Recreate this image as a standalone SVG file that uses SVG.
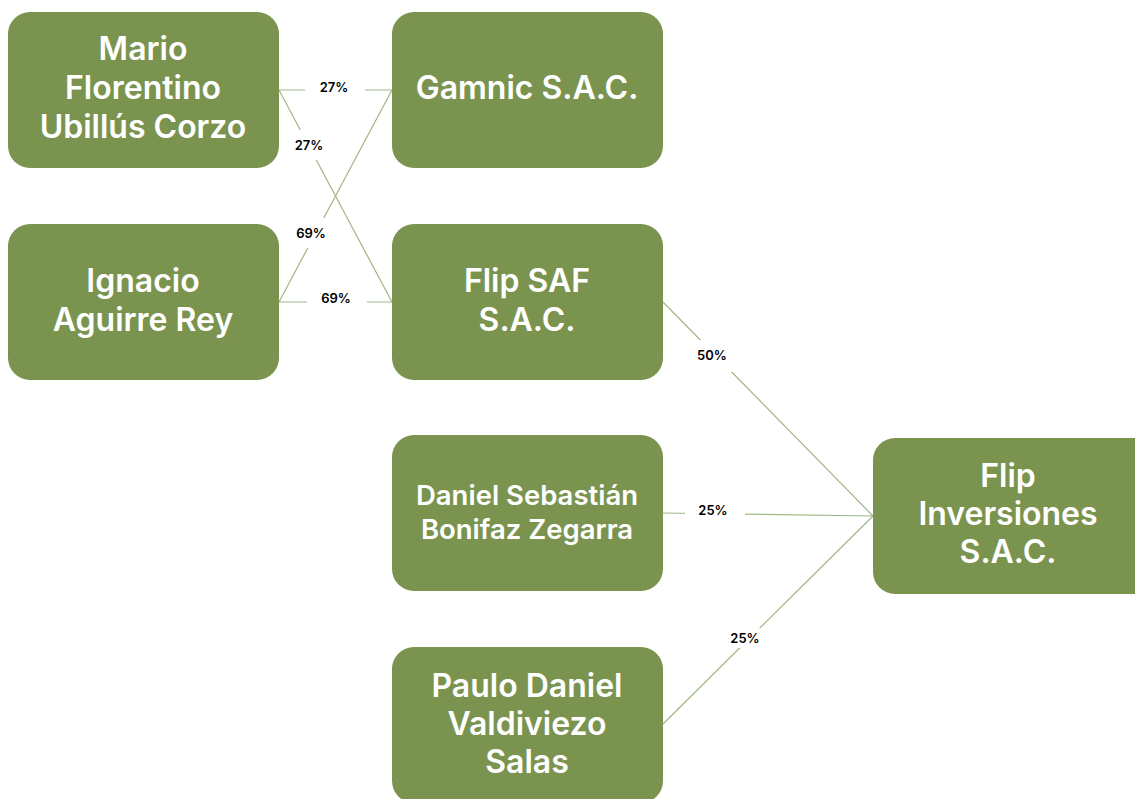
<svg xmlns="http://www.w3.org/2000/svg" width="1135" height="799" viewBox="0 0 1135 799">
<style>
.box{fill:#7a9450;}
.t{font-family:Inter,"Noto Sans",sans-serif;font-weight:600;font-size:32px;fill:#fff;text-anchor:middle;dominant-baseline:central;}
.ts{font-size:27.5px;}
.ln{stroke:#9fb886;stroke-width:1.2;fill:none;}
.lb{font-family:Inter,"Noto Sans",sans-serif;font-weight:600;font-size:13px;fill:#000;text-anchor:middle;dominant-baseline:central;}
.bg{fill:#fff;}
</style>
<rect width="1135" height="799" fill="#fff"/>
<g id="connectors">
<line class="ln" x1="279" y1="90" x2="392" y2="90"/>
<line class="ln" x1="279" y1="90" x2="392" y2="302"/>
<line class="ln" x1="279" y1="302" x2="392" y2="90"/>
<line class="ln" x1="279" y1="302" x2="392" y2="302"/>
<line class="ln" x1="663" y1="302" x2="873" y2="516"/>
<line class="ln" x1="663" y1="513" x2="873" y2="516"/>
<line class="ln" x1="663" y1="724" x2="873" y2="516"/>
<rect class="bg" x="305" y="77" width="60" height="20"/>
<text class="lb" x="334" y="87">27%</text>
<rect class="bg" x="292" y="130" width="36" height="30"/>
<text class="lb" x="309" y="145">27%</text>
<rect class="bg" x="293" y="218" width="36" height="30"/>
<text class="lb" x="311" y="233">69%</text>
<rect class="bg" x="307" y="288" width="60" height="20"/>
<text class="lb" x="336" y="298">69%</text>
<rect class="bg" x="692" y="340" width="40" height="32"/>
<text class="lb" x="712" y="355">50%</text>
<rect class="bg" x="685" y="500" width="60" height="20"/>
<text class="lb" x="713" y="510">25%</text>
<rect class="bg" x="727" y="628" width="38" height="20"/>
<text class="lb" x="745" y="638">25%</text>
</g>
<g id="mario"><rect class="box" x="8" y="12" width="271" height="156" rx="22"/>
<text class="t" x="143" y="48">Mario</text><text class="t" x="143" y="87">Florentino</text><text class="t" x="143" y="126">Ubillús Corzo</text></g>
<g id="gamnic"><rect class="box" x="392" y="12" width="271" height="156" rx="22"/>
<text class="t" x="527" y="87">Gamnic S.A.C.</text></g>
<g id="ignacio"><rect class="box" x="8" y="224" width="271" height="156" rx="22"/>
<text class="t" x="143" y="280">Ignacio</text><text class="t" x="143" y="319">Aguirre Rey</text></g>
<g id="flipsaf"><rect class="box" x="392" y="224" width="271" height="156" rx="22"/>
<text class="t" x="527" y="280">Flip SAF</text><text class="t" x="527" y="319">S.A.C.</text></g>
<g id="daniel"><rect class="box" x="392" y="435" width="271" height="156" rx="22"/>
<text class="t ts" x="527" y="495">Daniel Sebastián</text><text class="t ts" x="527" y="529">Bonifaz Zegarra</text></g>
<g id="paulo"><rect class="box" x="392" y="647" width="271" height="156" rx="22"/>
<text class="t" x="527" y="685">Paulo Daniel</text><text class="t" x="527" y="723">Valdiviezo</text><text class="t" x="527" y="761">Salas</text></g>
<g id="flipinv"><rect class="box" x="873" y="438" width="290" height="156" rx="22"/>
<text class="t" x="1008" y="475">Flip</text><text class="t" x="1008" y="513">Inversiones</text><text class="t" x="1008" y="551">S.A.C.</text></g>
</svg>
